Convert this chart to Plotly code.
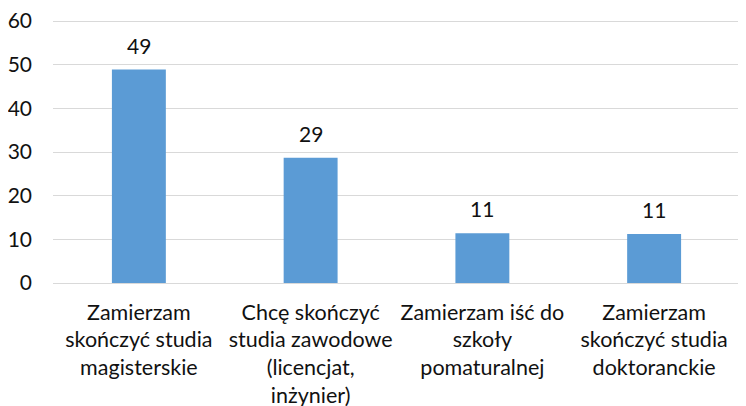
import plotly.graph_objects as go

categories = [
    "Zamierzam<br>skończyć studia<br>magisterskie",
    "Chcę skończyć<br>studia zawodowe<br>(licencjat,<br>inżynier)",
    "Zamierzam iść do<br>szkoły<br>pomaturalnej",
    "Zamierzam<br>skończyć studia<br>doktoranckie",
]
values = [48.9, 28.7, 11.4, 11.2]
y_ticks = [0, 10, 20, 30, 40, 50, 60]

FONT = "Lato"
TXT = "#111111"

fig = go.Figure(go.Bar(
    x=categories, y=values,
    marker=dict(color="#5b9bd5", line=dict(width=0)),
    hoverinfo="skip",
))

for c, v in zip(categories, values):
    fig.add_annotation(x=c, y=v, text=f"{v:.0f}", showarrow=False,
                       yanchor="bottom", yshift=10,
                       font=dict(family=FONT, size=21, color=TXT))

fig.update_layout(
    width=738, height=398,
    margin=dict(l=45, r=6, t=12, b=123),
    paper_bgcolor="white", plot_bgcolor="white",
    bargap=0.686,
    showlegend=False,
    font=dict(family=FONT, size=21, color=TXT),
)
fig.update_xaxes(showgrid=False, showline=False, ticks="", automargin=False,
                 ticklabelstandoff=14, ticklabeloverflow="allow",
                 tickfont=dict(family=FONT, size=21.5, color=TXT))
fig.update_yaxes(range=[0, 60.25], tickvals=y_ticks, showgrid=True, automargin=False,
                 gridcolor="#d9d9d9", gridwidth=1, zeroline=True,
                 zerolinecolor="#d9d9d9", zerolinewidth=1, showline=False,
                 ticks="", ticklabelstandoff=20, ticklabeloverflow="allow",
                 tickfont=dict(family=FONT, size=21, color=TXT))

fig.write_html("out.html")
